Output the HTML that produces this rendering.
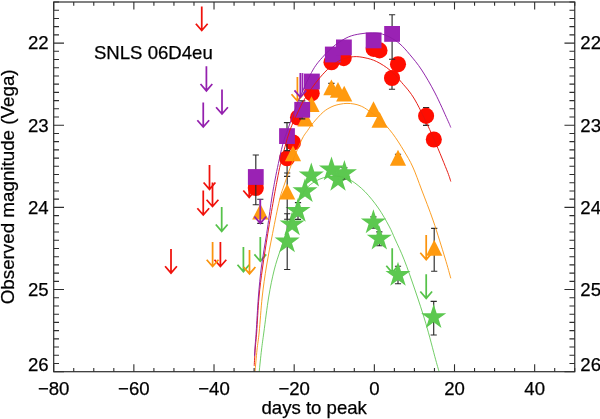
<!DOCTYPE html>
<html><head><meta charset="utf-8"><title>SNLS 06D4eu light curve</title>
<style>html,body{margin:0;padding:0;background:#fff;}body{width:600px;height:419px;overflow:hidden;position:relative;font-family:"Liberation Sans",sans-serif;}</style></head>
<body>
<svg width="600" height="419" viewBox="0 0 600 419" style="position:absolute;left:0;top:0;will-change:transform">
<rect x="0" y="0" width="600" height="419" fill="#ffffff"/>
<path d="M221.70 207.00V231.30M215.80 224.50L221.70 231.30L227.60 224.50" stroke="#56c24a" stroke-width="1.75" fill="none" stroke-linejoin="miter"/>
<path d="M260.30 236.90V261.20M254.40 254.40L260.30 261.20L266.20 254.40" stroke="#56c24a" stroke-width="1.75" fill="none" stroke-linejoin="miter"/>
<path d="M243.40 247.00V271.60M237.50 264.80L243.40 271.60L249.30 264.80" stroke="#56c24a" stroke-width="1.75" fill="none" stroke-linejoin="miter"/>
<path d="M392.20 248.30V272.60M386.30 265.80L392.20 272.60L398.10 265.80" stroke="#56c24a" stroke-width="1.75" fill="none" stroke-linejoin="miter"/>
<path d="M426.20 274.20V298.30M420.30 291.50L426.20 298.30L432.10 291.50" stroke="#56c24a" stroke-width="1.75" fill="none" stroke-linejoin="miter"/>
<path d="M287.20 213.70V269.50M284.10 213.70H290.30M284.10 269.50H290.30" stroke="#2b2b2b" stroke-width="1.15" fill="none"/>
<polygon points="287.20,228.40 290.16,237.52 299.75,237.52 292.00,243.16 294.96,252.28 287.20,246.64 279.44,252.28 282.40,243.16 274.65,237.52 284.24,237.52" fill="#5cc850"/>
<polygon points="292.10,211.30 295.06,220.42 304.65,220.42 296.90,226.06 299.86,235.18 292.10,229.54 284.34,235.18 287.30,226.06 279.55,220.42 289.14,220.42" fill="#5cc850"/>
<path d="M298.00 202.60V219.30M294.90 202.60H301.10M294.90 219.30H301.10" stroke="#2b2b2b" stroke-width="1.15" fill="none"/>
<polygon points="298.00,197.80 300.96,206.92 310.55,206.92 302.80,212.56 305.76,221.68 298.00,216.04 290.24,221.68 293.20,212.56 285.45,206.92 295.04,206.92" fill="#5cc850"/>
<polygon points="305.00,178.20 307.96,187.32 317.55,187.32 309.80,192.96 312.76,202.08 305.00,196.44 297.24,202.08 300.20,192.96 292.45,187.32 302.04,187.32" fill="#5cc850"/>
<polygon points="311.30,162.50 314.26,171.62 323.85,171.62 316.10,177.26 319.06,186.38 311.30,180.74 303.54,186.38 306.50,177.26 298.75,171.62 308.34,171.62" fill="#5cc850"/>
<polygon points="331.50,156.40 334.46,165.52 344.05,165.52 336.30,171.16 339.26,180.28 331.50,174.64 323.74,180.28 326.70,171.16 318.95,165.52 328.54,165.52" fill="#5cc850"/>
<polygon points="338.00,166.80 340.96,175.92 350.55,175.92 342.80,181.56 345.76,190.68 338.00,185.04 330.24,190.68 333.20,181.56 325.45,175.92 335.04,175.92" fill="#5cc850"/>
<path d="M344.40 167.70V179.00M341.30 167.70H347.50M341.30 179.00H347.50" stroke="#2b2b2b" stroke-width="1.15" fill="none"/>
<polygon points="344.40,160.10 347.36,169.22 356.95,169.22 349.20,174.86 352.16,183.98 344.40,178.34 336.64,183.98 339.60,174.86 331.85,169.22 341.44,169.22" fill="#5cc850"/>
<path d="M373.40 216.80V228.20M370.30 216.80H376.50M370.30 228.20H376.50" stroke="#2b2b2b" stroke-width="1.15" fill="none"/>
<polygon points="373.40,209.30 376.36,218.42 385.95,218.42 378.20,224.06 381.16,233.18 373.40,227.54 365.64,233.18 368.60,224.06 360.85,218.42 370.44,218.42" fill="#5cc850"/>
<path d="M379.30 231.90V245.70M376.20 231.90H382.40M376.20 245.70H382.40" stroke="#2b2b2b" stroke-width="1.15" fill="none"/>
<polygon points="379.30,225.60 382.26,234.72 391.85,234.72 384.10,240.36 387.06,249.48 379.30,243.84 371.54,249.48 374.50,240.36 366.75,234.72 376.34,234.72" fill="#5cc850"/>
<path d="M398.00 266.20V283.70M394.90 266.20H401.10M394.90 283.70H401.10" stroke="#2b2b2b" stroke-width="1.15" fill="none"/>
<polygon points="398.00,261.80 400.96,270.92 410.55,270.92 402.80,276.56 405.76,285.68 398.00,280.04 390.24,285.68 393.20,276.56 385.45,270.92 395.04,270.92" fill="#5cc850"/>
<path d="M433.70 301.30V335.00M430.60 301.30H436.80M430.60 335.00H436.80" stroke="#2b2b2b" stroke-width="1.15" fill="none"/>
<polygon points="433.70,304.10 436.66,313.22 446.25,313.22 438.50,318.86 441.46,327.98 433.70,322.34 425.94,327.98 428.90,318.86 421.15,313.22 430.74,313.22" fill="#5cc850"/>
<path d="M201.75 6.50V30.50M195.85 23.70L201.75 30.50L207.65 23.70" stroke="#f0120c" stroke-width="1.75" fill="none" stroke-linejoin="miter"/>
<path d="M209.50 165.00V189.30M203.60 182.50L209.50 189.30L215.40 182.50" stroke="#f0120c" stroke-width="1.75" fill="none" stroke-linejoin="miter"/>
<path d="M212.50 182.50V206.50M206.60 199.70L212.50 206.50L218.40 199.70" stroke="#f0120c" stroke-width="1.75" fill="none" stroke-linejoin="miter"/>
<path d="M203.25 190.50V215.00M197.35 208.20L203.25 215.00L209.15 208.20" stroke="#f0120c" stroke-width="1.75" fill="none" stroke-linejoin="miter"/>
<path d="M249.20 173.30V197.30M243.30 190.50L249.20 197.30L255.10 190.50" stroke="#f0120c" stroke-width="1.75" fill="none" stroke-linejoin="miter"/>
<path d="M171.00 249.00V273.10M165.10 266.30L171.00 273.10L176.90 266.30" stroke="#f0120c" stroke-width="1.75" fill="none" stroke-linejoin="miter"/>
<path d="M220.40 242.00V266.50M214.50 259.70L220.40 266.50L226.30 259.70" stroke="#f0120c" stroke-width="1.75" fill="none" stroke-linejoin="miter"/>
<path d="M287.10 140.00V176.30M284.00 140.00H290.20M284.00 176.30H290.20" stroke="#2b2b2b" stroke-width="1.15" fill="none"/>
<path d="M392.00 72.00V89.20M388.90 72.00H395.10M388.90 89.20H395.10" stroke="#2b2b2b" stroke-width="1.15" fill="none"/>
<path d="M426.10 107.50V125.40M423.00 107.50H429.20M423.00 125.40H429.20" stroke="#2b2b2b" stroke-width="1.15" fill="none"/>
<circle cx="255.80" cy="188.00" r="8.05" fill="#ff0d00"/>
<circle cx="287.10" cy="158.30" r="8.05" fill="#ff0d00"/>
<circle cx="293.00" cy="142.50" r="8.05" fill="#ff0d00"/>
<circle cx="298.00" cy="117.50" r="8.05" fill="#ff0d00"/>
<circle cx="311.70" cy="93.30" r="8.05" fill="#ff0d00"/>
<circle cx="331.50" cy="62.30" r="8.05" fill="#ff0d00"/>
<circle cx="343.70" cy="58.10" r="8.05" fill="#ff0d00"/>
<circle cx="373.60" cy="48.90" r="8.05" fill="#ff0d00"/>
<circle cx="379.50" cy="50.40" r="8.05" fill="#ff0d00"/>
<circle cx="398.00" cy="64.30" r="8.05" fill="#ff0d00"/>
<circle cx="392.00" cy="78.00" r="8.05" fill="#ff0d00"/>
<circle cx="426.10" cy="115.90" r="8.05" fill="#ff0d00"/>
<circle cx="433.80" cy="139.50" r="8.05" fill="#ff0d00"/>
<path d="M297.40 77.00V101.00M291.50 94.20L297.40 101.00L303.30 94.20" stroke="#fb940e" stroke-width="1.75" fill="none" stroke-linejoin="miter"/>
<path d="M212.60 242.00V266.50M206.70 259.70L212.60 266.50L218.50 259.70" stroke="#fb940e" stroke-width="1.75" fill="none" stroke-linejoin="miter"/>
<path d="M249.50 250.00V273.80M243.60 267.00L249.50 273.80L255.40 267.00" stroke="#fb940e" stroke-width="1.75" fill="none" stroke-linejoin="miter"/>
<path d="M426.20 235.00V259.60M420.30 252.80L426.20 259.60L432.10 252.80" stroke="#fb940e" stroke-width="1.75" fill="none" stroke-linejoin="miter"/>
<path d="M260.30 199.20V223.30M257.20 199.20H263.40M257.20 223.30H263.40" stroke="#2b2b2b" stroke-width="1.15" fill="none"/>
<path d="M287.20 173.00V219.20M284.10 173.00H290.30M284.10 219.20H290.30" stroke="#2b2b2b" stroke-width="1.15" fill="none"/>
<path d="M331.40 83.30V93.50M328.30 83.30H334.50M328.30 93.50H334.50" stroke="#2b2b2b" stroke-width="1.15" fill="none"/>
<path d="M398.00 154.20V164.00M394.90 154.20H401.10M394.90 164.00H401.10" stroke="#2b2b2b" stroke-width="1.15" fill="none"/>
<path d="M434.20 228.30V271.20M431.10 228.30H437.30M431.10 271.20H437.30" stroke="#2b2b2b" stroke-width="1.15" fill="none"/>
<path d="M260.30 203.67L268.40 219.47L252.20 219.47Z" fill="#ff9a0f"/>
<path d="M287.20 183.67L295.30 199.47L279.10 199.47Z" fill="#ff9a0f"/>
<path d="M293.00 145.47L301.10 161.27L284.90 161.27Z" fill="#ff9a0f"/>
<path d="M305.50 110.77L313.60 126.57L297.40 126.57Z" fill="#ff9a0f"/>
<path d="M311.50 96.17L319.60 111.97L303.40 111.97Z" fill="#ff9a0f"/>
<path d="M331.40 79.47L339.50 95.27L323.30 95.27Z" fill="#ff9a0f"/>
<path d="M338.00 81.97L346.10 97.77L329.90 97.77Z" fill="#ff9a0f"/>
<path d="M344.20 85.77L352.30 101.57L336.10 101.57Z" fill="#ff9a0f"/>
<path d="M373.50 101.17L381.60 116.97L365.40 116.97Z" fill="#ff9a0f"/>
<path d="M379.60 111.97L387.70 127.77L371.50 127.77Z" fill="#ff9a0f"/>
<path d="M398.00 149.87L406.10 165.67L389.90 165.67Z" fill="#ff9a0f"/>
<path d="M434.20 239.87L442.30 255.67L426.10 255.67Z" fill="#ff9a0f"/>
<path d="M206.40 66.30V90.80M200.50 84.00L206.40 90.80L212.30 84.00" stroke="#9420ae" stroke-width="1.75" fill="none" stroke-linejoin="miter"/>
<path d="M222.00 89.50V114.00M216.10 107.20L222.00 114.00L227.90 107.20" stroke="#9420ae" stroke-width="1.75" fill="none" stroke-linejoin="miter"/>
<path d="M203.25 102.50V127.00M197.35 120.20L203.25 127.00L209.15 120.20" stroke="#9420ae" stroke-width="1.75" fill="none" stroke-linejoin="miter"/>
<path d="M300.35 73.10V97.20M294.45 90.40L300.35 97.20L306.25 90.40" stroke="#9420ae" stroke-width="1.75" fill="none" stroke-linejoin="miter"/>
<path d="M260.30 199.20V223.30M254.40 216.50L260.30 223.30L266.20 216.50" stroke="#9420ae" stroke-width="1.75" fill="none" stroke-linejoin="miter"/>
<path d="M302.5 73.1V92.5" stroke="#9a22b4" stroke-width="1.75" fill="none"/>
<path d="M255.80 155.00V204.70M252.70 155.00H258.90M252.70 204.70H258.90" stroke="#2b2b2b" stroke-width="1.15" fill="none"/>
<path d="M287.00 122.60V150.60M283.90 122.60H290.10M283.90 150.60H290.10" stroke="#2b2b2b" stroke-width="1.15" fill="none"/>
<path d="M302.20 100.90V118.80M299.10 100.90H305.30M299.10 118.80H305.30" stroke="#2b2b2b" stroke-width="1.15" fill="none"/>
<path d="M392.10 14.70V59.20M389.00 14.70H395.20M389.00 59.20H395.20" stroke="#2b2b2b" stroke-width="1.15" fill="none"/>
<rect x="247.90" y="169.10" width="15.8" height="15.8" fill="#9a22b4"/>
<rect x="279.10" y="128.20" width="15.8" height="15.8" fill="#9a22b4"/>
<rect x="294.30" y="101.90" width="15.8" height="15.8" fill="#9a22b4"/>
<rect x="304.00" y="73.60" width="15.8" height="15.8" fill="#9a22b4"/>
<rect x="324.90" y="46.60" width="15.8" height="15.8" fill="#9a22b4"/>
<rect x="336.00" y="39.50" width="15.8" height="15.8" fill="#9a22b4"/>
<rect x="365.70" y="32.50" width="15.8" height="15.8" fill="#9a22b4"/>
<rect x="384.20" y="26.00" width="15.8" height="15.8" fill="#9a22b4"/>
<path d="M259.20 371.70C259.58 368.08 260.72 356.62 261.50 350.00C262.28 343.38 262.70 340.83 263.90 332.00C265.10 323.17 266.98 307.33 268.70 297.00C270.42 286.67 272.17 278.10 274.20 270.00C276.23 261.90 278.27 256.40 280.90 248.40C283.53 240.40 286.82 230.23 290.00 222.00C293.18 213.77 297.22 204.67 300.00 199.00C302.78 193.33 304.20 190.92 306.70 188.00C309.20 185.08 312.23 183.20 315.00 181.50C317.77 179.80 320.47 178.72 323.30 177.80C326.13 176.88 328.88 176.13 332.00 176.00C335.12 175.87 338.72 176.20 342.00 177.00C345.28 177.80 347.87 178.35 351.70 180.80C355.53 183.25 360.57 187.17 365.00 191.70C369.43 196.23 374.30 202.28 378.30 208.00C382.30 213.72 386.22 220.83 389.00 226.00C391.78 231.17 392.47 233.37 395.00 239.00C397.53 244.63 400.87 251.30 404.20 259.80C407.53 268.30 411.40 279.42 415.00 290.00C418.60 300.58 422.35 311.67 425.80 323.30C429.25 334.93 433.48 351.73 435.70 359.80C437.92 367.87 438.53 369.72 439.10 371.70" stroke="#58c44c" stroke-width="0.85" fill="none"/>
<path d="M255.00 371.70C255.33 368.08 256.30 356.62 257.00 350.00C257.70 343.38 258.33 340.83 259.20 332.00C260.07 323.17 260.98 308.00 262.20 297.00C263.42 286.00 264.77 276.60 266.50 266.00C268.23 255.40 270.43 244.40 272.60 233.40C274.77 222.40 277.57 208.07 279.50 200.00C281.43 191.93 282.12 191.17 284.20 185.00C286.28 178.83 289.08 170.53 292.00 163.00C294.92 155.47 299.10 145.22 301.70 139.80C304.30 134.38 305.67 133.35 307.60 130.50C309.53 127.65 310.68 125.78 313.30 122.70C315.92 119.62 320.18 114.68 323.30 112.00C326.42 109.32 329.22 107.90 332.00 106.60C334.78 105.30 337.50 104.73 340.00 104.20C342.50 103.67 344.67 103.43 347.00 103.40C349.33 103.37 351.83 103.62 354.00 104.00C356.17 104.38 357.88 104.82 360.00 105.70C362.12 106.58 363.37 107.00 366.70 109.30C370.03 111.60 375.72 115.50 380.00 119.50C384.28 123.50 388.40 128.05 392.40 133.30C396.40 138.55 400.60 145.38 404.00 151.00C407.40 156.62 409.85 160.50 412.80 167.00C415.75 173.50 418.28 181.00 421.70 190.00C425.12 199.00 429.42 209.67 433.30 221.00C437.18 232.33 442.08 248.45 445.00 258.00C447.92 267.55 449.83 274.92 450.80 278.30" stroke="#fb930c" stroke-width="0.9" fill="none"/>
<path d="M254.20 365.80C254.38 362.83 254.88 353.63 255.30 348.00C255.72 342.37 256.08 340.50 256.70 332.00C257.32 323.50 258.03 307.67 259.00 297.00C259.97 286.33 261.03 278.60 262.50 268.00C263.97 257.40 265.97 244.73 267.80 233.40C269.63 222.07 271.93 208.90 273.50 200.00C275.07 191.10 276.02 186.10 277.20 180.00C278.38 173.90 279.30 168.95 280.60 163.40C281.90 157.85 283.43 152.27 285.00 146.70C286.57 141.13 287.92 135.62 290.00 130.00C292.08 124.38 295.17 118.00 297.50 113.00C299.83 108.00 301.63 104.12 304.00 100.00C306.37 95.88 309.03 92.05 311.70 88.30C314.37 84.55 316.95 81.02 320.00 77.50C323.05 73.98 326.50 70.13 330.00 67.20C333.50 64.27 337.12 61.65 341.00 59.90C344.88 58.15 349.30 57.05 353.30 56.70C357.30 56.35 361.10 56.98 365.00 57.80C368.90 58.62 372.53 59.53 376.70 61.60C380.87 63.67 385.83 66.72 390.00 70.20C394.17 73.68 397.53 77.53 401.70 82.50C405.87 87.47 410.00 91.42 415.00 100.00C420.00 108.58 426.42 122.37 431.70 134.00C436.98 145.63 443.52 161.88 446.70 169.80C449.88 177.72 450.12 179.55 450.80 181.50" stroke="#e6150c" stroke-width="0.95" fill="none"/>
<path d="M254.50 355.80C254.62 354.00 254.92 348.97 255.20 345.00C255.48 341.03 255.67 340.00 256.20 332.00C256.73 324.00 257.52 308.00 258.40 297.00C259.28 286.00 260.12 276.60 261.50 266.00C262.88 255.40 265.03 244.40 266.70 233.40C268.37 222.40 270.12 208.90 271.50 200.00C272.88 191.10 273.85 186.10 275.00 180.00C276.15 173.90 277.13 169.23 278.40 163.40C279.67 157.57 281.07 150.57 282.60 145.00C284.13 139.43 285.03 137.17 287.60 130.00C290.17 122.83 294.02 111.58 298.00 102.00C301.98 92.42 307.50 79.87 311.50 72.50C315.50 65.13 318.08 62.35 322.00 57.80C325.92 53.25 330.62 48.67 335.00 45.20C339.38 41.73 344.13 38.88 348.30 37.00C352.47 35.12 356.38 34.57 360.00 33.90C363.62 33.23 366.67 33.07 370.00 33.00C373.33 32.93 376.67 32.78 380.00 33.50C383.33 34.22 386.67 35.55 390.00 37.30C393.33 39.05 396.67 41.08 400.00 44.00C403.33 46.92 406.38 50.47 410.00 54.80C413.62 59.13 417.53 63.63 421.70 70.00C425.87 76.37 430.70 84.70 435.00 93.00C439.30 101.30 444.87 114.05 447.50 119.80C450.13 125.55 450.25 126.22 450.80 127.50" stroke="#8c1ca6" stroke-width="0.95" fill="none"/>
<rect x="53.7" y="2.0" width="521.05" height="369.70" fill="none" stroke="#2e2e2e" stroke-width="1.2"/>
<path d="M53.70 371.7v-7.5M53.70 2.0v7.5M73.74 371.7v-3.8M73.74 2.0v3.8M93.78 371.7v-3.8M93.78 2.0v3.8M113.82 371.7v-3.8M113.82 2.0v3.8M133.86 371.7v-7.5M133.86 2.0v7.5M153.90 371.7v-3.8M153.90 2.0v3.8M173.94 371.7v-3.8M173.94 2.0v3.8M193.98 371.7v-3.8M193.98 2.0v3.8M214.02 371.7v-7.5M214.02 2.0v7.5M234.06 371.7v-3.8M234.06 2.0v3.8M254.10 371.7v-3.8M254.10 2.0v3.8M274.14 371.7v-3.8M274.14 2.0v3.8M294.18 371.7v-7.5M294.18 2.0v7.5M314.22 371.7v-3.8M314.22 2.0v3.8M334.27 371.7v-3.8M334.27 2.0v3.8M354.31 371.7v-3.8M354.31 2.0v3.8M374.35 371.7v-7.5M374.35 2.0v7.5M394.39 371.7v-3.8M394.39 2.0v3.8M414.43 371.7v-3.8M414.43 2.0v3.8M434.47 371.7v-3.8M434.47 2.0v3.8M454.51 371.7v-7.5M454.51 2.0v7.5M474.55 371.7v-3.8M474.55 2.0v3.8M494.59 371.7v-3.8M494.59 2.0v3.8M514.63 371.7v-3.8M514.63 2.0v3.8M534.67 371.7v-7.5M534.67 2.0v7.5M554.71 371.7v-3.8M554.71 2.0v3.8M574.75 371.7v-3.8M574.75 2.0v3.8M53.7 2.00h5.3M574.75 2.00h-5.3M53.7 10.22h5.3M574.75 10.22h-5.3M53.7 18.43h5.3M574.75 18.43h-5.3M53.7 26.65h5.3M574.75 26.65h-5.3M53.7 34.86h5.3M574.75 34.86h-5.3M53.7 43.08h10.3M574.75 43.08h-10.3M53.7 51.29h5.3M574.75 51.29h-5.3M53.7 59.51h5.3M574.75 59.51h-5.3M53.7 67.72h5.3M574.75 67.72h-5.3M53.7 75.94h5.3M574.75 75.94h-5.3M53.7 84.16h5.3M574.75 84.16h-5.3M53.7 92.37h5.3M574.75 92.37h-5.3M53.7 100.59h5.3M574.75 100.59h-5.3M53.7 108.80h5.3M574.75 108.80h-5.3M53.7 117.02h5.3M574.75 117.02h-5.3M53.7 125.23h10.3M574.75 125.23h-10.3M53.7 133.45h5.3M574.75 133.45h-5.3M53.7 141.66h5.3M574.75 141.66h-5.3M53.7 149.88h5.3M574.75 149.88h-5.3M53.7 158.10h5.3M574.75 158.10h-5.3M53.7 166.31h5.3M574.75 166.31h-5.3M53.7 174.53h5.3M574.75 174.53h-5.3M53.7 182.74h5.3M574.75 182.74h-5.3M53.7 190.96h5.3M574.75 190.96h-5.3M53.7 199.17h5.3M574.75 199.17h-5.3M53.7 207.39h10.3M574.75 207.39h-10.3M53.7 215.60h5.3M574.75 215.60h-5.3M53.7 223.82h5.3M574.75 223.82h-5.3M53.7 232.04h5.3M574.75 232.04h-5.3M53.7 240.25h5.3M574.75 240.25h-5.3M53.7 248.47h5.3M574.75 248.47h-5.3M53.7 256.68h5.3M574.75 256.68h-5.3M53.7 264.90h5.3M574.75 264.90h-5.3M53.7 273.11h5.3M574.75 273.11h-5.3M53.7 281.33h5.3M574.75 281.33h-5.3M53.7 289.54h10.3M574.75 289.54h-10.3M53.7 297.76h5.3M574.75 297.76h-5.3M53.7 305.98h5.3M574.75 305.98h-5.3M53.7 314.19h5.3M574.75 314.19h-5.3M53.7 322.41h5.3M574.75 322.41h-5.3M53.7 330.62h5.3M574.75 330.62h-5.3M53.7 338.84h5.3M574.75 338.84h-5.3M53.7 347.05h5.3M574.75 347.05h-5.3M53.7 355.27h5.3M574.75 355.27h-5.3M53.7 363.48h5.3M574.75 363.48h-5.3M53.7 371.70h10.3M574.75 371.70h-10.3" stroke="#2e2e2e" stroke-width="1.1" fill="none"/>
<text x="53.70" y="394.9" text-anchor="middle" style="font-family:'Liberation Sans',sans-serif;font-size:18.6px;fill:#000;stroke:#000;stroke-width:0.25px">−80</text>
<text x="133.86" y="394.9" text-anchor="middle" style="font-family:'Liberation Sans',sans-serif;font-size:18.6px;fill:#000;stroke:#000;stroke-width:0.25px">−60</text>
<text x="214.02" y="394.9" text-anchor="middle" style="font-family:'Liberation Sans',sans-serif;font-size:18.6px;fill:#000;stroke:#000;stroke-width:0.25px">−40</text>
<text x="294.18" y="394.9" text-anchor="middle" style="font-family:'Liberation Sans',sans-serif;font-size:18.6px;fill:#000;stroke:#000;stroke-width:0.25px">−20</text>
<text x="374.35" y="394.9" text-anchor="middle" style="font-family:'Liberation Sans',sans-serif;font-size:18.6px;fill:#000;stroke:#000;stroke-width:0.25px">0</text>
<text x="454.51" y="394.9" text-anchor="middle" style="font-family:'Liberation Sans',sans-serif;font-size:18.6px;fill:#000;stroke:#000;stroke-width:0.25px">20</text>
<text x="534.67" y="394.9" text-anchor="middle" style="font-family:'Liberation Sans',sans-serif;font-size:18.6px;fill:#000;stroke:#000;stroke-width:0.25px">40</text>
<text x="48.6" y="49.48" text-anchor="end" style="font-family:'Liberation Sans',sans-serif;font-size:18.6px;fill:#000;stroke:#000;stroke-width:0.25px">22</text>
<text x="580.3" y="49.48" text-anchor="start" style="font-family:'Liberation Sans',sans-serif;font-size:18.6px;fill:#000;stroke:#000;stroke-width:0.25px">22</text>
<text x="48.6" y="131.63" text-anchor="end" style="font-family:'Liberation Sans',sans-serif;font-size:18.6px;fill:#000;stroke:#000;stroke-width:0.25px">23</text>
<text x="580.3" y="131.63" text-anchor="start" style="font-family:'Liberation Sans',sans-serif;font-size:18.6px;fill:#000;stroke:#000;stroke-width:0.25px">23</text>
<text x="48.6" y="213.79" text-anchor="end" style="font-family:'Liberation Sans',sans-serif;font-size:18.6px;fill:#000;stroke:#000;stroke-width:0.25px">24</text>
<text x="580.3" y="213.79" text-anchor="start" style="font-family:'Liberation Sans',sans-serif;font-size:18.6px;fill:#000;stroke:#000;stroke-width:0.25px">24</text>
<text x="48.6" y="295.94" text-anchor="end" style="font-family:'Liberation Sans',sans-serif;font-size:18.6px;fill:#000;stroke:#000;stroke-width:0.25px">25</text>
<text x="580.3" y="295.94" text-anchor="start" style="font-family:'Liberation Sans',sans-serif;font-size:18.6px;fill:#000;stroke:#000;stroke-width:0.25px">25</text>
<text x="48.6" y="371.3" text-anchor="end" style="font-family:'Liberation Sans',sans-serif;font-size:18.6px;fill:#000;stroke:#000;stroke-width:0.25px">26</text>
<text x="580.3" y="371.3" text-anchor="start" style="font-family:'Liberation Sans',sans-serif;font-size:18.6px;fill:#000;stroke:#000;stroke-width:0.25px">26</text>
<text x="314.2" y="414.3" text-anchor="middle" style="font-family:'Liberation Sans',sans-serif;font-size:18.6px;fill:#000;stroke:#000;stroke-width:0.25px">days to peak</text>
<text transform="translate(14.0 186.85) rotate(-90)" text-anchor="middle" style="font-family:'Liberation Sans',sans-serif;font-size:18.6px;fill:#000;stroke:#000;stroke-width:0.25px;font-size:18.8px">Observed magnitude (Vega)</text>
<text x="93.9" y="58.9" style="font-family:'Liberation Sans',sans-serif;font-size:18.6px;fill:#000;stroke:#000;stroke-width:0.25px">SNLS 06D4eu</text>
</svg>
</body></html>
